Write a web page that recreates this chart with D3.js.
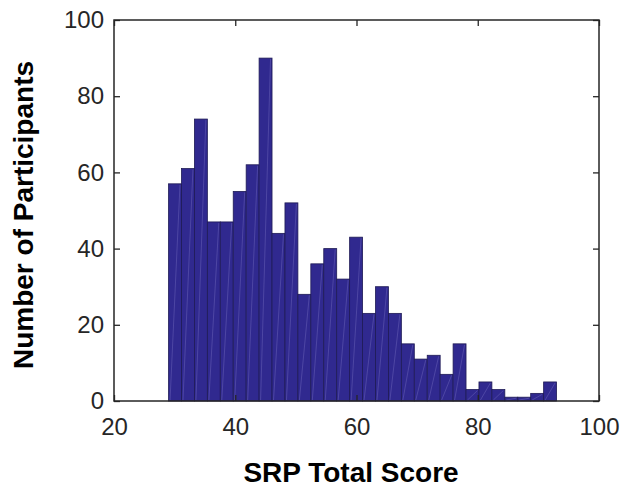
<!DOCTYPE html>
<html>
<head>
<meta charset="utf-8">
<script src="https://cdn.jsdelivr.net/npm/d3@7"></script>
<style>
html,body{margin:0;padding:0;background:#fff;}
svg{display:block;}
</style>
</head>
<body>
<script>
// Histogram data
const binStart = 29;
const binEnd = 93;
const counts = [57,61,74,47,47,55,62,90,44,52,28,36,40,32,43,23,30,23,15,11,12,7,15,3,5,3,1,1,2,5];
const xTicks = [20,40,60,80,100];
const yTicks = [0,20,40,60,80,100];
const xLabel = "SRP Total Score";
const yLabel = "Number of Participants";

const W = 622, H = 489;
const m = {left:114, right:23, top:20, bottom:88};
const iw = W - m.left - m.right, ih = H - m.top - m.bottom;

const nb = counts.length;
const bw = (binEnd - binStart) / nb;
const bins = counts.map((c,i)=>({x0: binStart + i*bw, x1: binStart + (i+1)*bw, c}));

const x = d3.scaleLinear().domain([20,100]).range([0, iw]);
const y = d3.scaleLinear().domain([0,100]).range([ih, 0]);

const svg = d3.select("body").append("svg").attr("width", W).attr("height", H);
const g = svg.append("g").attr("transform", `translate(${m.left},${m.top})`);

const bars = g.append("g");
bars.selectAll("rect").data(bins).join("rect")
  .attr("x", d=>x(d.x0)).attr("y", d=>y(d.c))
  .attr("width", d=>x(d.x1)-x(d.x0)).attr("height", d=>y(0)-y(d.c))
  .attr("fill", "#30298f").attr("stroke", "#1f1b55").attr("stroke-width", 0.8);
bars.selectAll("line").data(bins).join("line")
  .attr("x1", d=>x(d.x0)+1.5).attr("y1", d=>y(0)-1)
  .attr("x2", d=>x(d.x1)-1.5).attr("y2", d=>y(d.c)+1)
  .attr("stroke", "rgba(170,165,230,0.3)").attr("stroke-width", 0.8);

const col = "#262626";
const font = "'Liberation Sans', Arial, Helvetica, sans-serif";
const tl = 6;

function styleAxis(sel, showText){
  sel.select(".domain").remove();
  sel.selectAll(".tick line").attr("stroke", col).attr("stroke-width", 1.3);
  sel.selectAll(".tick text").attr("fill", col).style("font-family", font).style("font-size", "24px");
  if(!showText) sel.selectAll(".tick text").remove();
}

const xb = g.append("g").attr("transform", `translate(0,${ih})`)
  .call(d3.axisBottom(x).tickValues(xTicks).tickSizeInner(-tl).tickSizeOuter(0).tickPadding(17));
styleAxis(xb, true);
const xt = g.append("g").call(d3.axisTop(x).tickValues(xTicks).tickSizeInner(-tl).tickSizeOuter(0));
styleAxis(xt, false);
const yl = g.append("g").call(d3.axisLeft(y).tickValues(yTicks).tickSizeInner(-tl).tickSizeOuter(0).tickPadding(10));
styleAxis(yl, true);
const yr = g.append("g").attr("transform", `translate(${iw},0)`)
  .call(d3.axisRight(y).tickValues(yTicks).tickSizeInner(-tl).tickSizeOuter(0));
styleAxis(yr, false);

g.append("rect").attr("x",0).attr("y",0).attr("width",iw).attr("height",ih)
  .attr("fill","none").attr("stroke",col).attr("stroke-width",1.5);

svg.append("text").attr("x", 351).attr("y", 482)
  .attr("text-anchor","middle").attr("fill","#000")
  .style("font-family", font).style("font-weight","bold").style("font-size","28px")
  .text(xLabel);
svg.append("text").attr("transform", `translate(33,215) rotate(-90)`)
  .attr("text-anchor","middle").attr("fill","#000")
  .style("font-family", font).style("font-weight","bold").style("font-size","28px")
  .text(yLabel);
</script>
</body>
</html>
